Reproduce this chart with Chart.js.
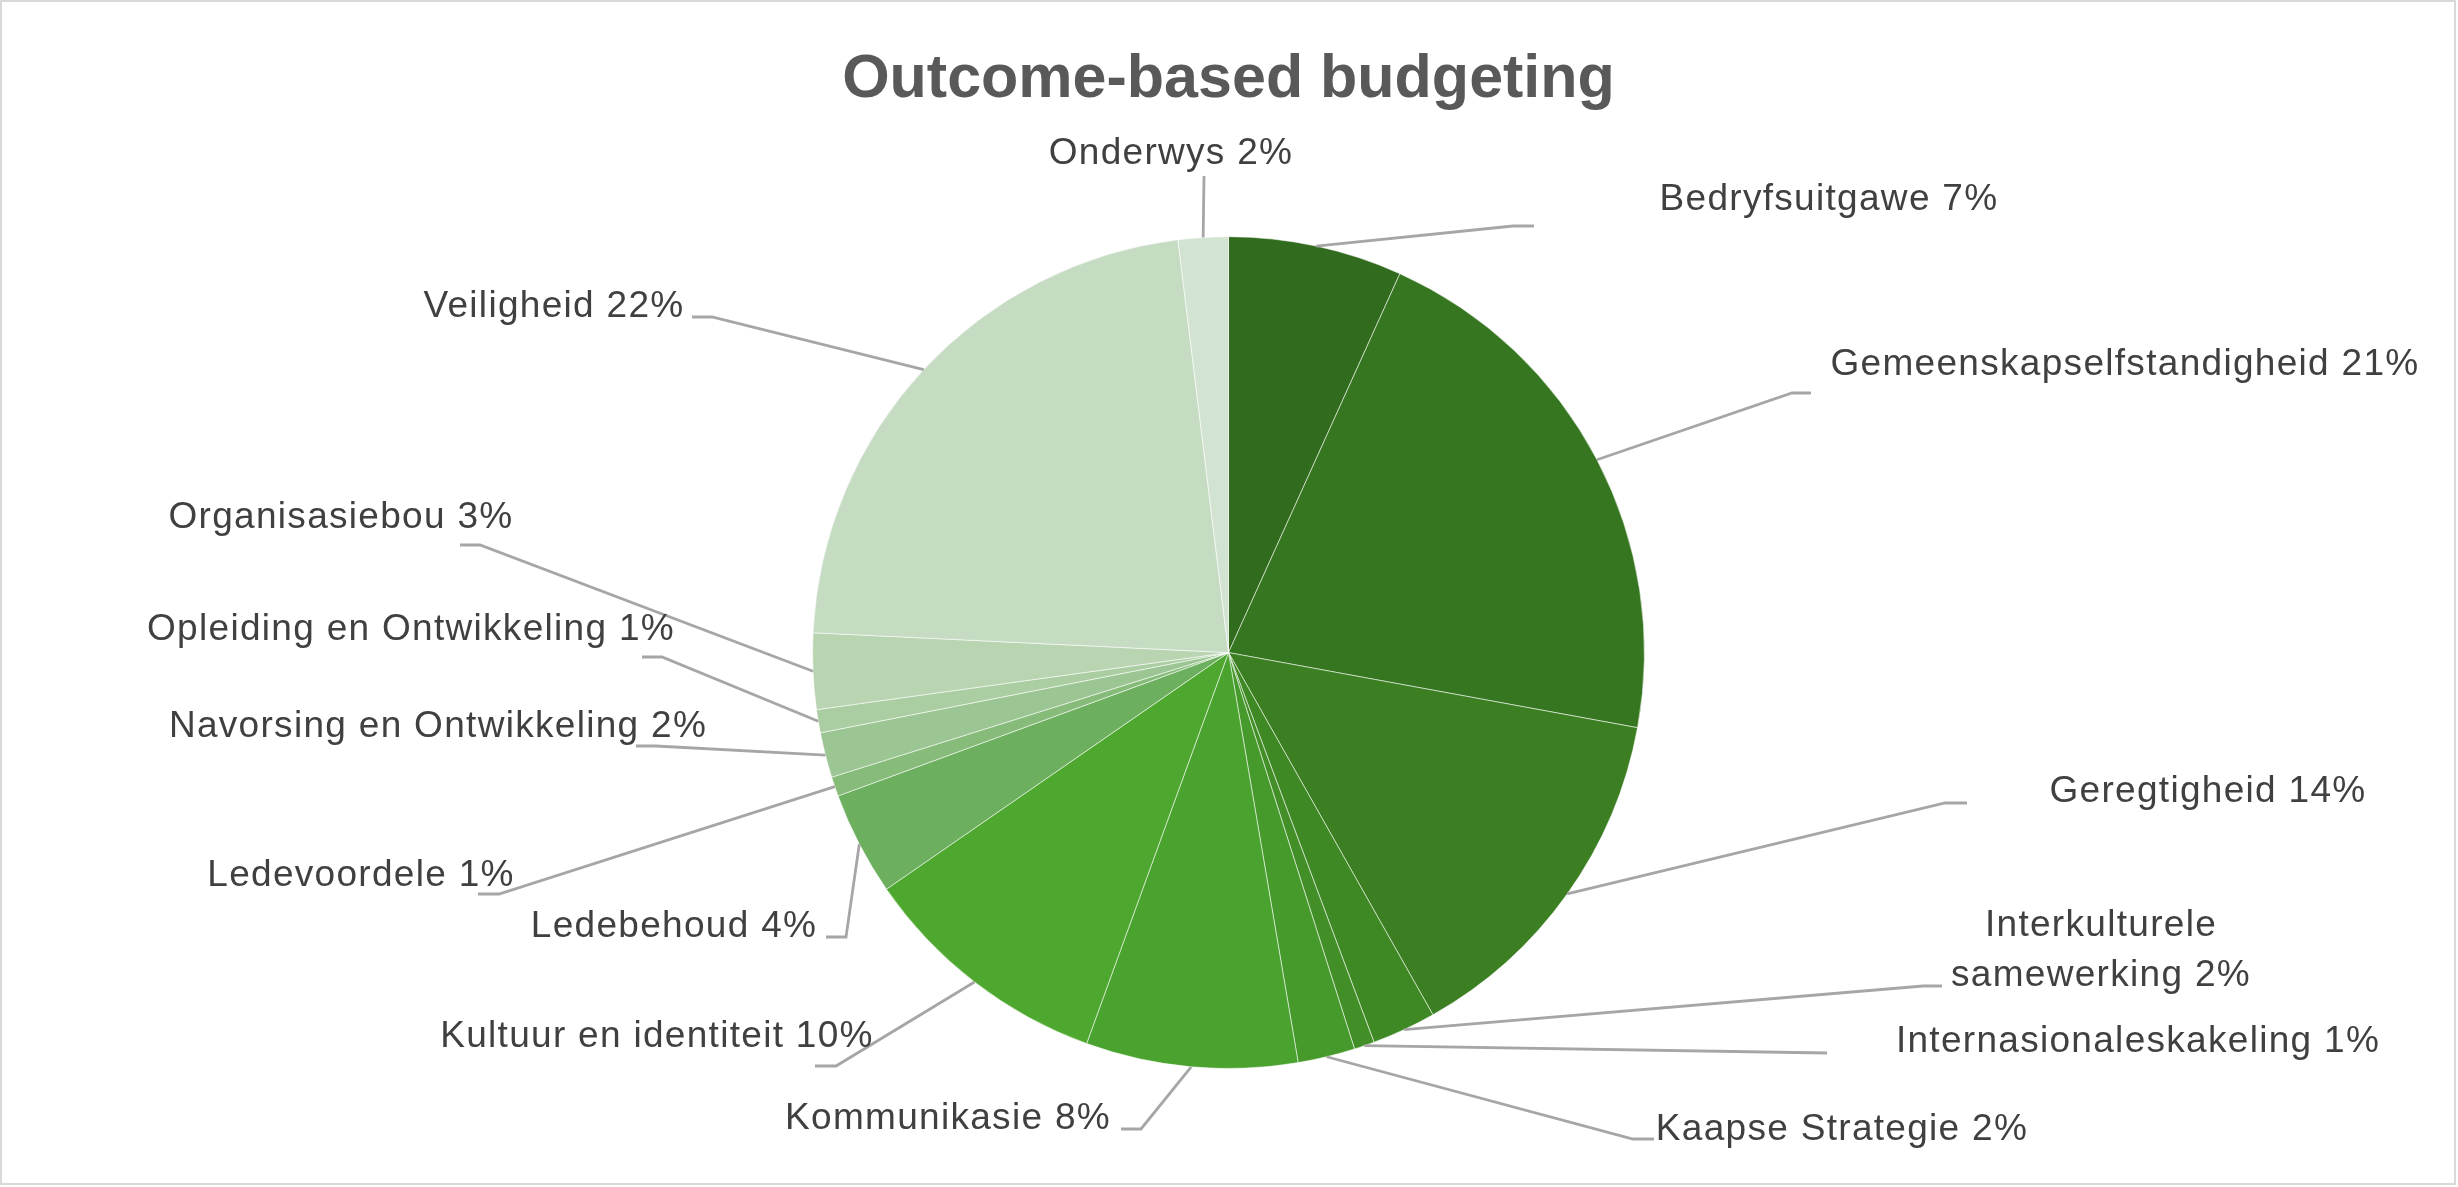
<!DOCTYPE html>
<html>
<head>
<meta charset="utf-8">
<title>Outcome-based budgeting</title>
<script src="https://cdn.jsdelivr.net/npm/chart.js@4.4.1/dist/chart.umd.min.js"></script>
<style>
  html, body { margin: 0; padding: 0; background: #fff; }
  #wrap { width: 2458px; height: 1187px; position: relative; }
</style>
</head>
<body>
<div id="wrap"><canvas id="budgetChart"></canvas></div>
<script>
// data (share of budget, %)
const categories = [
  'Bedryfsuitgawe', 'Gemeenskapselfstandigheid', 'Geregtigheid', 'Interkulturele samewerking',
  'Internasionaleskakeling', 'Kaapse Strategie', 'Kommunikasie', 'Kultuur en identiteit',
  'Ledebehoud', 'Ledevoordele', 'Navorsing en Ontwikkeling', 'Opleiding en Ontwikkeling',
  'Organisasiebou', 'Veiligheid', 'Onderwys'
];
const shares = [6.76, 21.13, 13.93, 2.49, 0.79, 2.22, 8.22, 9.83, 4.03, 0.76, 1.75, 0.9, 2.95, 22.3, 1.94];
const sliceColors = [
  '#316b1d', '#377620', '#3b7f22', '#3f8925', '#428f28', '#469a2c', '#4aa22f', '#4ea72f',
  '#6caf5e', '#86bb79', '#9bc592', '#abcda2', '#b9d4b1', '#c5dcc3', '#d3e3d1'
];

// label placement (layout only): text centre x, first baseline y, leader elbow and end
const labelLayout = [
  { x: 1829, y: 210, elbow: [1513, 226], end: [1534, 226] },
  { x: 2125, y: 375, elbow: [1792, 393], end: [1811, 393] },
  { x: 2208, y: 802, elbow: [1945, 803], end: [1967, 803] },
  { x: 2101, y: 936, lines: ['Interkulturele', 'samewerking'], elbow: [1923, 986], end: [1942, 986] },
  { x: 2138, y: 1052, elbow: [1827, 1053], end: [1827, 1053] },
  { x: 1842, y: 1140, elbow: [1633, 1139], end: [1654, 1139] },
  { x: 948, y: 1129, elbow: [1141, 1129], end: [1121, 1129] },
  { x: 657, y: 1047, elbow: [836, 1066], end: [815, 1066] },
  { x: 674, y: 937, elbow: [846, 937], end: [826, 937] },
  { x: 361, y: 886, elbow: [499, 894], end: [478, 894] },
  { x: 438, y: 737, elbow: [656, 746], end: [636, 746] },
  { x: 411, y: 640, elbow: [662, 657], end: [642, 657] },
  { x: 341, y: 528, elbow: [480, 545], end: [460, 545] },
  { x: 554, y: 317, elbow: [712, 317], end: [692, 317] },
  { x: 1171, y: 164, elbow: [1204, 176], end: [1204, 176] }
];

const leaderLabels = {
  id: 'leaderLabels',
  afterDatasetsDraw(chart) {
    const { ctx } = chart;
    const meta = chart.getDatasetMeta(0);
    const values = chart.data.datasets[0].data;
    const total = values.reduce((a, b) => a + b, 0);

    ctx.save();
    ctx.strokeStyle = '#a6a6a6';
    ctx.lineWidth = 2.8;
    meta.data.forEach((arc, i) => {
      const lay = labelLayout[i];
      const mid = (arc.startAngle + arc.endAngle) / 2;
      const sx = arc.x + Math.cos(mid) * arc.outerRadius;
      const sy = arc.y + Math.sin(mid) * arc.outerRadius;
      ctx.beginPath();
      ctx.moveTo(sx, sy);
      ctx.lineTo(lay.elbow[0], lay.elbow[1]);
      ctx.lineTo(lay.end[0], lay.end[1]);
      ctx.stroke();
    });

    ctx.fillStyle = '#404040';
    ctx.font = '37px "Liberation Sans", Arial, sans-serif';
    ctx.letterSpacing = '1.3px';
    ctx.textAlign = 'center';
    ctx.textBaseline = 'alphabetic';
    meta.data.forEach((arc, i) => {
      const lay = labelLayout[i];
      const pct = Math.round(values[i] / total * 100) + '%';
      const lines = lay.lines ? lay.lines.slice() : [chart.data.labels[i]];
      lines[lines.length - 1] += ' ' + pct;
      lines.forEach((line, k) => ctx.fillText(line, lay.x, lay.y + k * 50));
    });
    ctx.restore();
  },
  afterDraw(chart) {
    const { ctx, width, height } = chart;
    ctx.save();
    ctx.strokeStyle = '#d9d9d9';
    ctx.lineWidth = 2;
    ctx.strokeRect(1, 1, width - 4, height - 4);
    ctx.restore();
  }
};

new Chart(document.getElementById('budgetChart'), {
  type: 'pie',
  data: {
    labels: categories,
    datasets: [{
      data: shares,
      backgroundColor: sliceColors,
      borderColor: 'rgba(255,255,255,0.55)',
      borderWidth: 1
    }]
  },
  options: {
    responsive: true,
    maintainAspectRatio: false,
    animation: false,
    layout: { padding: { top: 0, bottom: 118, left: 0, right: 1 } },
    plugins: {
      legend: { display: false },
      tooltip: { enabled: false },
      title: {
        display: true,
        text: 'Outcome-based budgeting',
        color: '#595959',
        font: { family: '"Liberation Sans", Arial, sans-serif', size: 61, weight: 'bold' },
        padding: { top: 44, bottom: 119 }
      }
    }
  },
  plugins: [leaderLabels]
});
</script>
</body>
</html>
